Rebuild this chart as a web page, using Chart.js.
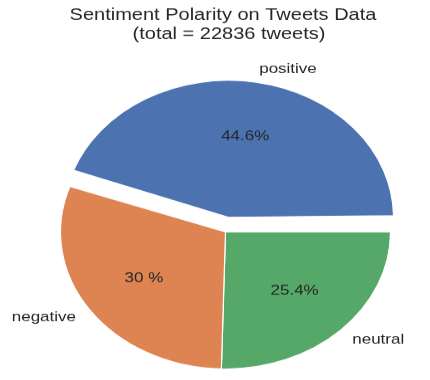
<!DOCTYPE html>
<html>
<head>
<meta charset="utf-8">
<script src="https://cdn.jsdelivr.net/npm/chart.js@4/dist/chart.umd.min.js"></script>
<style>
  html, body { margin: 0; padding: 0; background: #fff; overflow: hidden; }
  #wrap { width: 430px; height: 458px; transform: scale(1, 0.83); transform-origin: 0 0; }
  #pie { width: 430px; height: 458px; }
</style>
</head>
<body>
<div id="wrap"><canvas id="pie" width="430" height="458"></canvas></div>
<script>
// clockwise from 3 o'clock, so this is matplotlib's order reversed
const labels = ['neutral', 'negative', 'positive'];
const shares = [25.4, 30.0, 44.6];
const pctLabels = ['25.4%', '30 %', '44.6%'];
const colors = ['#55A868', '#DD8452', '#4C72B0'];
const explode = [0, 0, 72];   // chart.js moves a slice by offset/4

const titleLines = ['Sentiment Polarity on Tweets Data', '(total = 22836 tweets)'];
const textColor = '#262626';

// chart.js also grows an offset slice; shrink it back so it keeps the pie radius
const explodeFix = {
    id: 'explodeFix',
    afterDatasetUpdate(chart, args) {
        args.meta.data.forEach(function(arc) {
            const off = (arc.options.offset || 0) / 4;
            const fix = 1 - Math.sin(Math.min(Math.PI, arc.circumference));
            arc.outerRadius = args.meta.controller.outerRadius - off * fix;
        });
    }
};

const pieText = {
    id: 'pieText',
    afterDraw(chart) {
        const ctx = chart.ctx;
        const meta = chart.getDatasetMeta(0);
        const R = meta.controller.outerRadius;
        ctx.save();
        ctx.fillStyle = textColor;
        ctx.textBaseline = 'middle';

        ctx.font = '20px "Liberation Sans", Arial, sans-serif';
        ctx.textAlign = 'center';
        ctx.fillText(titleLines[0], 223, 18);
        ctx.fillText(titleLines[1], 229, 41);

        ctx.font = '17px "Liberation Sans", Arial, sans-serif';
        meta.data.forEach(function(arc, i) {
            const mid = (arc.startAngle + arc.endAngle) / 2;
            const off = (arc.options.offset || 0) / 4;
            const cx = arc.x + Math.cos(mid) * off;
            const cy = arc.y + Math.sin(mid) * off;

            ctx.textAlign = 'center';
            ctx.fillText(pctLabels[i], cx + 0.6 * R * Math.cos(mid), cy + 0.6 * R * Math.sin(mid));

            ctx.textAlign = Math.cos(mid) >= 0 ? 'left' : 'right';
            ctx.fillText(labels[i], cx + 1.1 * R * Math.cos(mid), cy + 1.1 * R * Math.sin(mid));
        });
        ctx.restore();
    }
};

new Chart(document.getElementById('pie').getContext('2d'), {
    type: 'pie',
    data: {
        labels: labels,
        datasets: [{
            data: shares,
            backgroundColor: colors,
            borderColor: '#ffffff',
            borderWidth: 1.2,
            offset: explode
        }]
    },
    options: {
        responsive: false,
        animation: false,
        rotation: 90,
        radius: 165,
        layout: { padding: { left: 25.5, right: 4.5, top: 109.5, bottom: 8.5 } },
        plugins: {
            legend: { display: false },
            tooltip: { enabled: false }
        }
    },
    plugins: [explodeFix, pieText]
});
</script>
</body>
</html>
